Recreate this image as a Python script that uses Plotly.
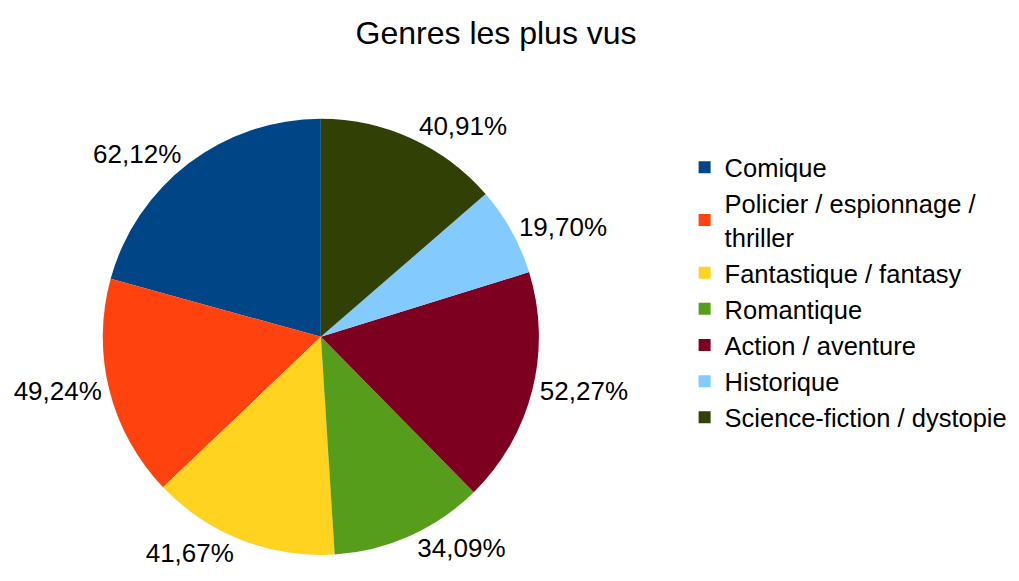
import plotly.graph_objects as go

genres = ["Comique", "Policier / espionnage /<br>thriller", "Fantastique / fantasy",
          "Romantique", "Action / aventure", "Historique", "Science-fiction / dystopie"]
pourcentages = [62.12, 49.24, 41.67, 34.09, 52.27, 19.70, 40.91]
couleurs = ["#004586", "#ff420e", "#ffd320", "#579d1c", "#7e0021", "#83caff", "#314004"]

etiquettes = [f"{v:.2f}".replace(".", ",") + "%" for v in pourcentages]

# first slice starts at 12 o'clock and runs counterclockwise
rotation = -360 * pourcentages[0] / sum(pourcentages)

fig = go.Figure()

fig.add_trace(go.Pie(
    labels=genres,
    values=pourcentages,
    text=etiquettes,
    textinfo="text",
    textposition="outside",
    sort=False,
    direction="counterclockwise",
    rotation=rotation,
    marker=dict(colors=couleurs, line=dict(width=0)),
    outsidetextfont=dict(size=26, color="black"),
    domain=dict(x=[0.093, 0.521], y=[0.053, 0.815]),
    hoverinfo="label+text",
))

fig.update_layout(
    title=dict(text="Genres les plus vus", x=0.479, xanchor="center",
               y=0.958, yanchor="middle", font=dict(size=32, color="black")),
    font=dict(family="Liberation Sans, Arial, sans-serif", color="black"),
    paper_bgcolor="white",
    plot_bgcolor="white",
    width=1019,
    height=581,
    margin=dict(l=0, r=0, t=0, b=0),
    legend=dict(x=0.664, y=0.51, xanchor="left", yanchor="middle",
                font=dict(size=25.5, color="black"), bgcolor="rgba(0,0,0,0)"),
)

fig.write_html("out.html")
